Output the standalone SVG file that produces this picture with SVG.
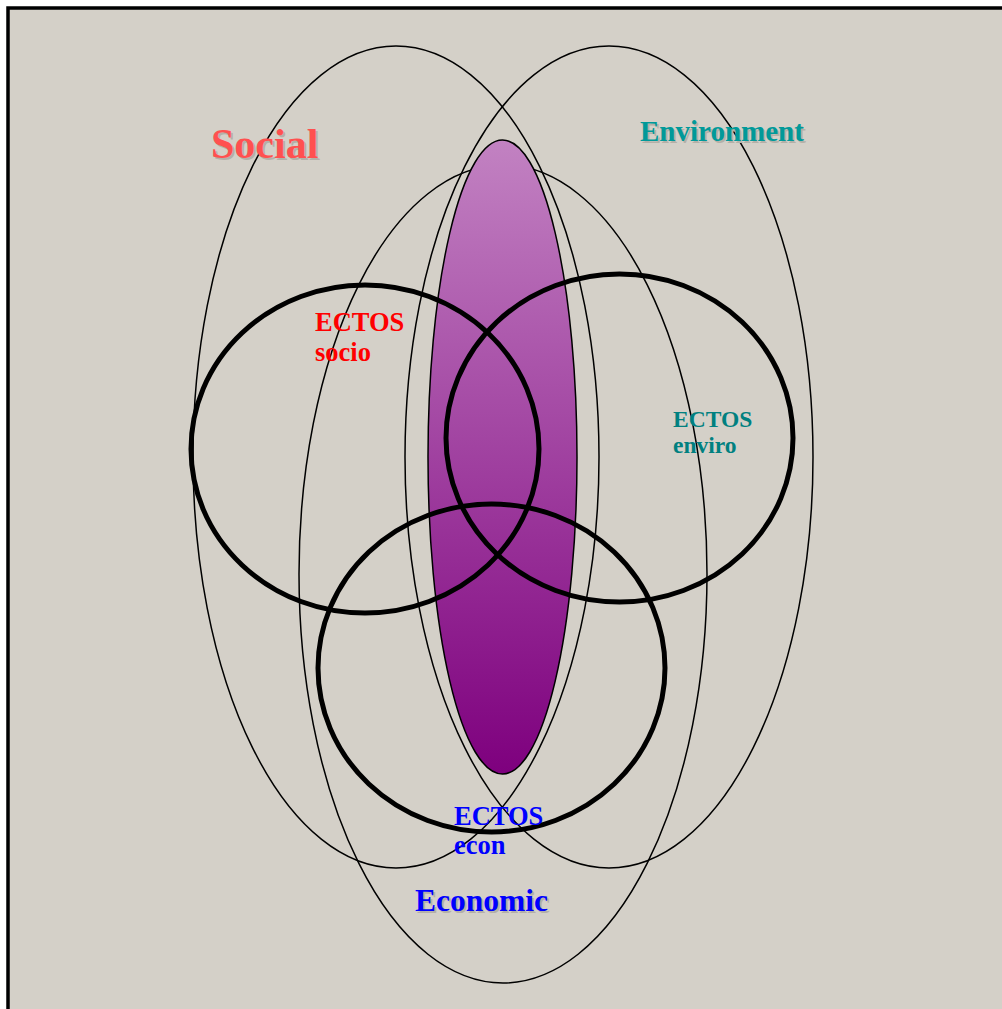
<svg xmlns="http://www.w3.org/2000/svg" width="1002" height="1009" viewBox="0 0 1002 1009">
<defs>
<linearGradient id="pg" x1="0" y1="0" x2="0" y2="1">
<stop offset="0" stop-color="#C282C2"/>
<stop offset="1" stop-color="#7E007E"/>
</linearGradient>
<style>
.thin{fill:none;stroke:#000;stroke-width:1.5}
.thick{fill:none;stroke:#000;stroke-width:5}
text{font-family:"Liberation Serif","Times New Roman",serif;font-weight:bold}
.sh{fill:#B4B0A8}
</style>
</defs>
<rect x="0" y="0" width="1002" height="1009" fill="#fff"/>
<rect x="8" y="8" width="1000" height="1010" fill="#D4D0C8" stroke="#000" stroke-width="3.5"/>
<g id="connectors"/>
<g id="social-sphere"><ellipse class="thin" cx="396" cy="457" rx="203" ry="411"/></g>
<g id="environment-sphere"><ellipse class="thin" cx="609" cy="457" rx="204" ry="411"/></g>
<g id="economic-sphere"><ellipse class="thin" cx="503" cy="574" rx="204" ry="409"/></g>
<g id="core"><ellipse cx="502.5" cy="457" rx="74.5" ry="317" fill="url(#pg)" stroke="#000" stroke-width="1.5"/></g>
<g id="ectos-socio"><ellipse class="thick" cx="365" cy="449" rx="174" ry="164"/></g>
<g id="ectos-enviro"><ellipse class="thick" cx="619.5" cy="438" rx="173.5" ry="164"/></g>
<g id="ectos-econ"><ellipse class="thick" cx="491.5" cy="668" rx="173.5" ry="164"/></g>
<g id="label-social">
<text class="sh" x="213" y="160" font-size="42">Social</text>
<text x="211" y="158" font-size="42" fill="#FF5050">Social</text>
</g>
<g id="label-environment">
<text class="sh" x="642" y="143" font-size="29">Environment</text>
<text x="640" y="141" font-size="29" fill="#009999">Environment</text>
</g>
<g id="label-economic">
<text class="sh" x="417" y="913" font-size="31.5">Economic</text>
<text x="415" y="911" font-size="31.5" fill="#0000FF">Economic</text>
</g>
<g id="label-ectos-socio">
<text x="315" y="331" font-size="26.5" fill="#FF0000">ECTOS</text>
<text x="315" y="361" font-size="26.5" fill="#FF0000">socio</text>
</g>
<g id="label-ectos-enviro">
<text x="673" y="427" font-size="23.5" fill="#008080">ECTOS</text>
<text x="673" y="453" font-size="23.5" fill="#008080">enviro</text>
</g>
<g id="label-ectos-econ">
<text x="454" y="825" font-size="26.5" fill="#0000FF">ECTOS</text>
<text x="454" y="854" font-size="26.5" fill="#0000FF">econ</text>
</g>
</svg>
